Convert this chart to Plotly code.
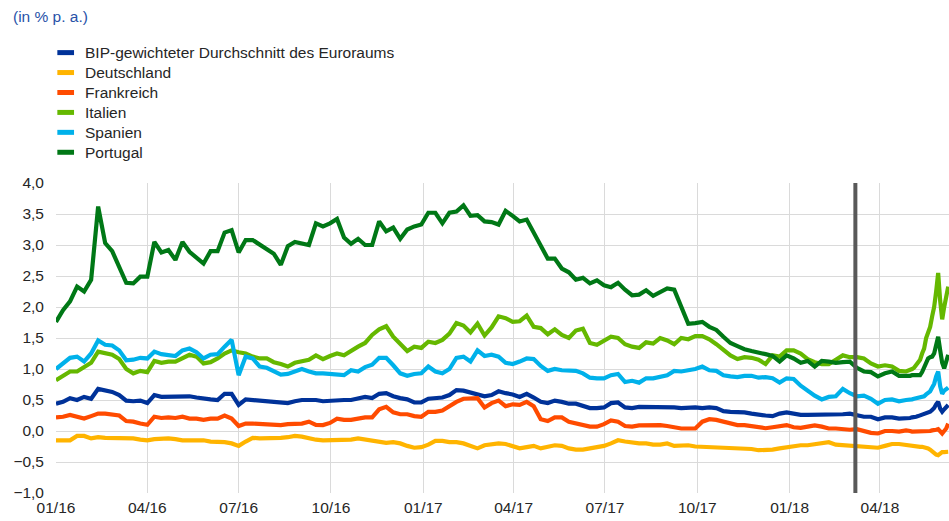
import pandas as pd
import plotly.graph_objects as go

# Observation dates: weekly until end of April 2018, then every two days
weekly_start, weekly_end = "2016-01-01", "2018-04-27"
daily_start, daily_end = "2018-04-29", "2018-06-08"
dates = list(pd.date_range(weekly_start, weekly_end, freq="7D")) + \
        list(pd.date_range(daily_start, daily_end, freq="2D"))

euro_area = [
    0.44, 0.47, 0.53, 0.50, 0.55, 0.52, 0.68, 0.66, 0.63, 0.58,
    0.49, 0.48, 0.49, 0.45, 0.58, 0.55, 0.55, 0.55, 0.56, 0.56,
    0.54, 0.52, 0.51, 0.50, 0.60, 0.60, 0.42, 0.51, 0.50, 0.50,
    0.48, 0.48, 0.47, 0.45, 0.48, 0.50, 0.50, 0.50, 0.48, 0.49,
    0.50, 0.50, 0.50, 0.53, 0.55, 0.53, 0.60, 0.61, 0.56, 0.53,
    0.51, 0.46, 0.46, 0.52, 0.53, 0.54, 0.58, 0.66, 0.65, 0.62,
    0.60, 0.56, 0.58, 0.64, 0.61, 0.59, 0.55, 0.60, 0.54, 0.47,
    0.45, 0.49, 0.47, 0.44, 0.44, 0.40, 0.37, 0.37, 0.38, 0.45,
    0.46, 0.38, 0.37, 0.39, 0.39, 0.39, 0.39, 0.39, 0.38, 0.37,
    0.38, 0.38, 0.37, 0.38, 0.37, 0.32, 0.31, 0.31, 0.30, 0.28,
    0.26, 0.25, 0.24, 0.28, 0.30, 0.28, 0.26, 0.26, 0.26, 0.26,
    0.26, 0.26, 0.27, 0.28, 0.25, 0.23, 0.23, 0.19, 0.22, 0.22,
    0.20, 0.20,
    0.21, 0.21, 0.22, 0.22, 0.23, 0.24, 0.25, 0.26, 0.27, 0.28,
    0.30, 0.31, 0.34, 0.37, 0.43, 0.47, 0.36, 0.31, 0.35, 0.39, 0.42,
]

germany = [
    -0.15, -0.15, -0.15, -0.08, -0.08, -0.12, -0.10, -0.11, -0.11, -0.11,
    -0.11, -0.12, -0.14, -0.15, -0.13, -0.12, -0.12, -0.13, -0.15, -0.15,
    -0.15, -0.15, -0.17, -0.17, -0.18, -0.20, -0.24, -0.17, -0.11, -0.12,
    -0.12, -0.12, -0.11, -0.10, -0.08, -0.09, -0.12, -0.14, -0.15, -0.15,
    -0.15, -0.15, -0.14, -0.12, -0.14, -0.16, -0.18, -0.19, -0.18, -0.20,
    -0.24, -0.27, -0.26, -0.22, -0.16, -0.16, -0.18, -0.18, -0.20, -0.24,
    -0.28, -0.23, -0.21, -0.20, -0.21, -0.25, -0.28, -0.26, -0.24, -0.28,
    -0.25, -0.23, -0.24, -0.28, -0.30, -0.30, -0.28, -0.26, -0.24, -0.20,
    -0.15, -0.17, -0.19, -0.20, -0.20, -0.22, -0.22, -0.20, -0.24, -0.24,
    -0.23, -0.25, -0.255, -0.255, -0.255, -0.27, -0.26, -0.27, -0.28, -0.29,
    -0.31, -0.31, -0.30, -0.28, -0.26, -0.25, -0.23, -0.23, -0.21, -0.20,
    -0.18, -0.22, -0.23, -0.24, -0.255, -0.255, -0.27, -0.27, -0.24, -0.21,
    -0.21, -0.23,
    -0.23, -0.24, -0.245, -0.25, -0.255, -0.255, -0.255, -0.255, -0.26, -0.26,
    -0.28, -0.30, -0.33, -0.36, -0.38, -0.39, -0.37, -0.34, -0.34, -0.335, -0.335,
]

france = [
    0.22, 0.23, 0.26, 0.23, 0.20, 0.24, 0.28, 0.28, 0.26, 0.25,
    0.16, 0.15, 0.12, 0.10, 0.23, 0.21, 0.22, 0.21, 0.23, 0.20,
    0.20, 0.18, 0.20, 0.20, 0.25, 0.20, 0.08, 0.12, 0.12, 0.11,
    0.10, 0.095, 0.095, 0.11, 0.12, 0.12, 0.15, 0.10, 0.095, 0.13,
    0.20, 0.18, 0.18, 0.20, 0.22, 0.22, 0.35, 0.39, 0.30, 0.27,
    0.27, 0.24, 0.23, 0.31, 0.31, 0.33, 0.40, 0.47, 0.52, 0.53,
    0.53, 0.38, 0.45, 0.49, 0.40, 0.43, 0.42, 0.47, 0.40, 0.19,
    0.16, 0.22, 0.22, 0.15, 0.12, 0.10, 0.07, 0.07, 0.11, 0.17,
    0.15, 0.08, 0.07, 0.09, 0.095, 0.095, 0.095, 0.08, 0.06, 0.04,
    0.04, 0.04, 0.15, 0.19, 0.18, 0.15, 0.12, 0.095, 0.095, 0.08,
    0.07, 0.045, 0.06, 0.08, 0.095, 0.06, 0.05, 0.07, 0.09, 0.07,
    0.04, 0.04, 0.03, 0.02, 0.03, 0.00, -0.03, -0.04, 0.00, 0.00,
    -0.01, 0.01,
    0.01, 0.00, -0.01, -0.01, -0.01, -0.01, -0.01, -0.01, -0.01, -0.01,
    0.00, 0.00, 0.01, 0.01, 0.02, 0.03, -0.02, -0.04, 0.00, 0.04, 0.12,
]

italy = [
    0.82, 0.89, 0.96, 0.96, 1.04, 1.10, 1.28, 1.26, 1.23, 1.16,
    1.00, 0.93, 0.97, 0.95, 1.13, 1.10, 1.12, 1.12, 1.18, 1.23,
    1.20, 1.09, 1.11, 1.17, 1.25, 1.30, 1.27, 1.25, 1.20, 1.17,
    1.17, 1.11, 1.08, 1.04, 1.10, 1.12, 1.15, 1.22, 1.16, 1.21,
    1.25, 1.22, 1.30, 1.36, 1.42, 1.55, 1.64, 1.69, 1.52, 1.41,
    1.29, 1.36, 1.34, 1.44, 1.42, 1.47, 1.57, 1.74, 1.70, 1.59,
    1.73, 1.54, 1.67, 1.85, 1.82, 1.76, 1.77, 1.86, 1.68, 1.66,
    1.56, 1.64, 1.55, 1.50, 1.62, 1.65, 1.42, 1.39, 1.45, 1.52,
    1.50, 1.40, 1.36, 1.34, 1.43, 1.41, 1.50, 1.46, 1.40, 1.50,
    1.48, 1.53, 1.53, 1.48, 1.40, 1.30, 1.22, 1.16, 1.19, 1.18,
    1.15, 1.08, 1.22, 1.20, 1.30, 1.30, 1.25, 1.16, 1.11, 1.08,
    1.08, 1.15, 1.22, 1.19, 1.19, 1.17, 1.09, 1.04, 1.06, 1.04,
    0.97, 0.96,
    0.97, 0.98, 1.00, 1.02, 1.06, 1.10, 1.15, 1.25, 1.33, 1.50,
    1.60, 1.68, 1.85, 2.00, 2.25, 2.55, 2.10, 1.80, 2.00, 2.20, 2.33,
]

spain = [
    1.00, 1.08, 1.18, 1.20, 1.12, 1.25, 1.46, 1.39, 1.38, 1.30,
    1.14, 1.15, 1.18, 1.17, 1.28, 1.24, 1.23, 1.21, 1.30, 1.33,
    1.27, 1.17, 1.23, 1.24, 1.36, 1.47, 0.90, 1.20, 1.17, 1.04,
    1.02, 0.96, 0.91, 0.92, 0.96, 1.00, 0.96, 0.93, 0.93, 0.92,
    0.90, 0.90, 0.98, 0.96, 1.03, 1.07, 1.18, 1.18, 1.06, 0.93,
    0.89, 0.92, 0.93, 1.04, 0.96, 0.93, 1.00, 1.18, 1.20, 1.12,
    1.30, 1.21, 1.23, 1.20, 1.10, 1.08, 1.12, 1.17, 1.16, 1.05,
    0.97, 1.00, 0.98, 0.97, 0.97, 0.93, 0.86, 0.85, 0.85, 0.90,
    0.92, 0.79, 0.81, 0.78, 0.85, 0.85, 0.88, 0.90, 0.97, 0.96,
    0.98, 1.00, 1.04, 0.98, 0.97, 0.90, 0.88, 0.87, 0.89, 0.89,
    0.86, 0.87, 0.85, 0.78, 0.85, 0.84, 0.73, 0.64, 0.57, 0.51,
    0.55, 0.56, 0.68, 0.61, 0.56, 0.57, 0.52, 0.44, 0.50, 0.51,
    0.48, 0.50,
    0.50, 0.50, 0.51, 0.52, 0.53, 0.54, 0.55, 0.55, 0.56, 0.59,
    0.62, 0.64, 0.70, 0.76, 0.88, 0.96, 0.72, 0.60, 0.65, 0.68, 0.70,
]

portugal = [
    1.76, 1.95, 2.09, 2.33, 2.25, 2.44, 3.62, 3.03, 2.90, 2.63,
    2.39, 2.38, 2.49, 2.49, 3.05, 2.88, 2.92, 2.76, 3.05, 2.89,
    2.80, 2.70, 2.90, 2.90, 3.20, 3.24, 2.88, 3.08, 3.08, 3.00,
    2.93, 2.86, 2.68, 2.98, 3.05, 3.03, 3.00, 3.35, 3.30, 3.35,
    3.42, 3.12, 3.02, 3.10, 3.00, 3.00, 3.38, 3.22, 3.28, 3.10,
    3.25, 3.30, 3.33, 3.52, 3.52, 3.35, 3.52, 3.54, 3.64, 3.47,
    3.48, 3.38, 3.37, 3.33, 3.55, 3.47, 3.38, 3.41, 3.20, 2.97,
    2.78, 2.78, 2.62, 2.56, 2.44, 2.47, 2.38, 2.43, 2.35, 2.32,
    2.39, 2.28, 2.19, 2.20, 2.27, 2.18, 2.24, 2.30, 2.28, 2.00,
    1.73, 1.74, 1.76, 1.68, 1.63, 1.52, 1.42, 1.37, 1.32, 1.29,
    1.27, 1.24, 1.21, 1.12, 1.22, 1.17, 1.10, 1.13, 1.04, 1.13,
    1.12, 1.10, 1.11, 1.12, 1.02, 0.96, 0.95, 0.88, 0.93, 0.96,
    0.89, 0.88,
    0.88, 0.89, 0.90, 0.90, 0.90, 0.90, 0.90, 0.95, 1.02, 1.10,
    1.17, 1.19, 1.20, 1.25, 1.40, 1.52, 1.30, 1.10, 1.01, 1.15, 1.23,
]

series_names = ["BIP-gewichteter Durchschnitt des Euroraums", "Deutschland",
                "Frankreich", "Italien", "Spanien", "Portugal"]
series_values = [euro_area, germany, france, italy, spain, portugal]
series_colors = ["#003299", "#FFB400", "#FF4B00", "#65B800", "#00B1EA", "#007816"]

marker_date = "2018-03-07 12:00"
x_range = ["2016-01-01", "2018-06-08 19:00"]
y_range = [-1.0, 4.0]
unit_label = "(in % p. a.)"

FONT = "Liberation Sans, Arial, sans-serif"
TEXT_COLOR = "#262626"
FS = 15.5

fig = go.Figure()
for name, vals, col in zip(series_names, series_values, series_colors):
    fig.add_trace(go.Scatter(x=dates, y=vals, name=name, mode="lines",
                             line=dict(color=col, width=4.2), showlegend=False,
                             hoverinfo="skip"))

# ECB marker line
fig.add_shape(type="line", xref="x", yref="paper", x0=marker_date, x1=marker_date,
              y0=0, y1=1, line=dict(color="#595959", width=4), layer="above")

# Hand-placed legend (paper coordinates)
leg_y0, leg_step = 1.4206, 0.0643
for i, (name, col) in enumerate(zip(series_names, series_colors)):
    yy = leg_y0 - i * leg_step
    fig.add_shape(type="line", xref="paper", yref="paper", x0=0.0015, x1=0.0202,
                  y0=yy, y1=yy, line=dict(color=col, width=5))
    fig.add_annotation(text=name, xref="paper", yref="paper", x=0.0302, y=yy,
                       xanchor="left", yanchor="middle", showarrow=False,
                       font=dict(size=FS, color=TEXT_COLOR, family=FONT))

fig.add_annotation(text=unit_label, xref="paper", yref="paper", x=-0.0504, y=1.538,
                   xanchor="left", yanchor="middle", showarrow=False,
                   font=dict(size=FS, color="#2852A8", family=FONT))

fig.update_layout(
    width=949, height=521,
    margin=dict(l=56, r=0, t=183.4, b=28.3),
    plot_bgcolor="white", paper_bgcolor="white",
    separators=",.",
    font=dict(family=FONT, size=FS, color=TEXT_COLOR),
    showlegend=False,
    xaxis=dict(type="date", range=x_range, tick0="2016-01-01", dtick="M3",
               tickformat="%m/%y", showgrid=True, gridcolor="#DADADA", gridwidth=1.3,
               zeroline=False, showline=False, ticks="", ticklabelstandoff=3),
    yaxis=dict(range=y_range, dtick=0.5, tickformat=".1f", showgrid=True,
               gridcolor="#DADADA", gridwidth=1.3, zeroline=False, showline=False,
               ticks="", ticklabelstandoff=11),
)

# Remove the browser's default page margin so the figure fills the window exactly
fig.write_html("out.html",
               config={"displayModeBar": False},
               post_script="document.body.style.margin='0';"
                           "document.body.style.overflow='hidden';")
